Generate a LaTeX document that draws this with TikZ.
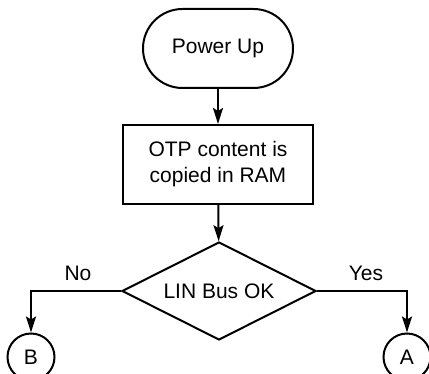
\documentclass[tikz,border=0pt]{standalone}
\usepackage{fontspec}
\setmainfont{Liberation Sans}
\usetikzlibrary{shapes.geometric,arrows.meta}
\begin{document}
\begin{tikzpicture}[x=1pt,y=1pt,
  every node/.style={font=\fontsize{21}{26}\selectfont},
  box/.style={draw,line width=2pt,inner sep=0pt},
  term/.style={box,minimum width=150pt,minimum height=79pt,rounded corners=39.5pt},
  procbox/.style={box,minimum width=190pt,minimum height=79pt,align=center},
  decision/.style={box,diamond,aspect=1.98,minimum width=194pt,minimum height=98pt},
  conn/.style={box,circle,minimum size=47pt},
  flow/.style={line width=2pt,-{Stealth[length=16pt,width=10pt,inset=3pt]}},
  lbl/.style={inner sep=0pt}]
\useasboundingbox (0,0) rectangle (429,374);
\clip (0,0) rectangle (429,374);
\node[term] (pwr) at (218,325.5) {Power Up};
\node[procbox] (otp) at (218,209.5) {OTP content is\\copied in RAM};
\node[decision] (dia) at (219,83) {LIN Bus OK};
\node[conn] (B) at (31,17) {B};
\node[conn] (A) at (407,17) {A};
\draw[flow] (pwr) -- (otp);
\draw[flow] (otp) -- (dia);
\draw[flow] (dia.west) -| (B.north);
\draw[flow] (dia.east) -| (A.north);
\node[lbl] (no) at (78,101) {No};
\node[lbl] (yes) at (366,101) {Yes};
\end{tikzpicture}
\end{document}
